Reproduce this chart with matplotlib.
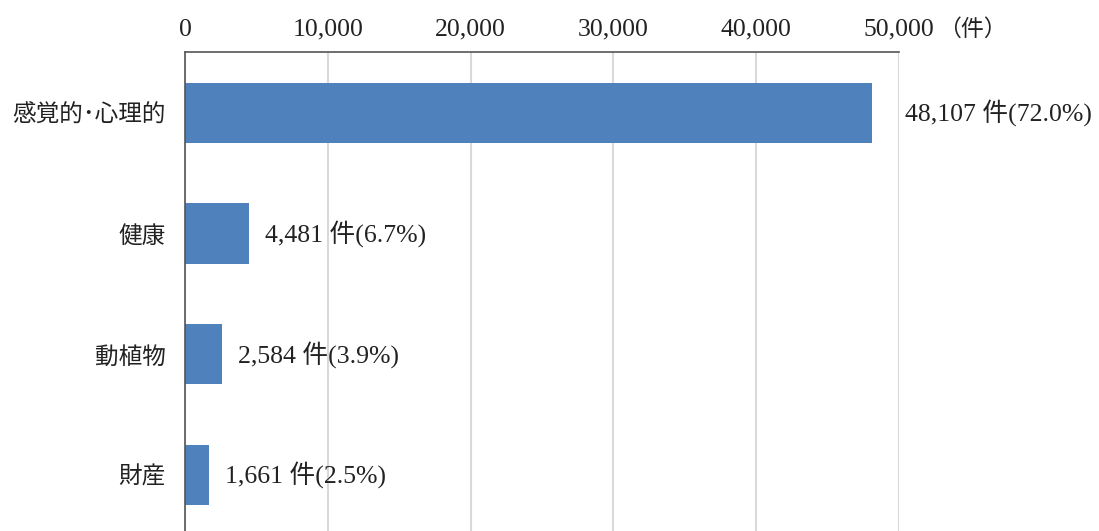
import matplotlib

matplotlib.use("Agg")
import matplotlib.pyplot as plt
from matplotlib.ticker import FuncFormatter

categories = ["感覚的･心理的", "健康", "動植物", "財産"]
counts = [48107, 4481, 2584, 1661]
shares = [72.0, 6.7, 3.9, 2.5]
x_ticks = [0, 10000, 20000, 30000, 40000, 50000]
unit_label = "（件）"

BAR_COLOR = "#4F81BD"
NUM_FONT = ["Liberation Serif", "Noto Sans CJK JP"]
JP_FONT = ["Noto Sans CJK JP", "DejaVu Sans"]
NUM_SIZE = 18.5

fig = plt.figure(figsize=(10.99, 5.31), dpi=100)
ax = fig.add_axes([185 / 1099, 0.0, 714 / 1099, 1 - 52 / 531])

y = list(range(len(categories)))
ax.barh(y, counts, height=0.5, color=BAR_COLOR, zorder=3)

ax.set_xlim(0, 50000)
ax.set_ylim(3.464, -0.505)
ax.set_xticks(x_ticks)
ax.xaxis.set_major_formatter(FuncFormatter(lambda v, _: f"{int(v):,}"))
ax.xaxis.tick_top()
ax.tick_params(axis="x", length=0, pad=8, labelsize=NUM_SIZE)
for lab in ax.get_xticklabels():
    lab.set_fontfamily(NUM_FONT)
    lab.set_color("#222222")

ax.set_yticks(y)
ax.set_yticklabels(categories, fontfamily=JP_FONT, fontsize=17, color="#222222")
ax.tick_params(axis="y", length=0, pad=14)

ax.grid(axis="x", color="#d9d9d9", linewidth=1.5, zorder=0)
for side in ["right", "bottom"]:
    ax.spines[side].set_visible(False)
ax.spines["left"].set_color("#555555")
ax.spines["top"].set_color("#555555")
ax.spines["left"].set_linewidth(1.2)
ax.spines["top"].set_linewidth(1.2)
ax.spines["left"].set_zorder(4)

xmax = ax.get_xlim()[1]
for yi, c, s in zip(y, counts, shares):
    label = f"{c:,} 件({s:.1f}%)"
    if c > xmax * 0.9:
        # long bar: put the label just past the plot edge
        ax.annotate(label, (xmax, yi), xytext=(4, 0), textcoords="offset points",
                    va="center", ha="left", fontsize=NUM_SIZE, fontfamily=NUM_FONT,
                    color="#222222", annotation_clip=False)
    else:
        ax.annotate(label, (c, yi), xytext=(11.5, 0), textcoords="offset points",
                    va="center", ha="left", fontsize=NUM_SIZE, fontfamily=NUM_FONT,
                    color="#222222")

ax.annotate(unit_label, (xmax, 1), xycoords=("data", "axes fraction"),
            xytext=(28, 8), textcoords="offset points", va="bottom", ha="left",
            fontsize=16.5, fontfamily=JP_FONT, color="#222222", annotation_clip=False)

fig.savefig("out.png", dpi=100)
